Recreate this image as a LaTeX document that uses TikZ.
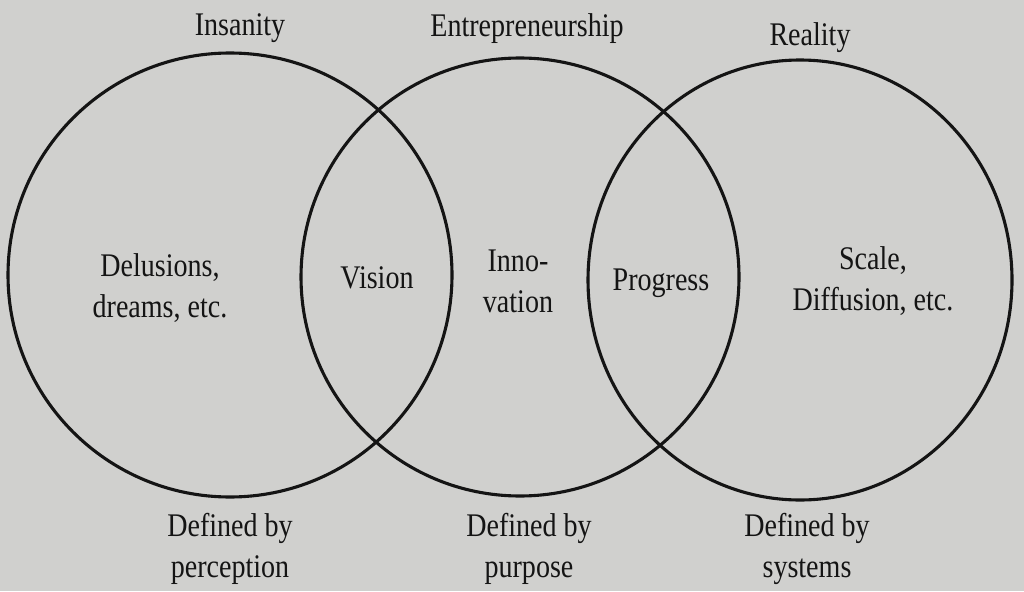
\documentclass[tikz,border=0pt]{standalone}
\usepackage{fontspec}
\setmainfont{Liberation Serif}[FakeStretch=0.85]
\usetikzlibrary{shapes.geometric}
\definecolor{paper}{RGB}{208,208,206}
\definecolor{ink}{RGB}{20,20,20}
\begin{document}
\begin{tikzpicture}[x=1pt,y=-1pt,
  ring/.style={draw=ink, line width=3.1pt, inner sep=0pt, fill=none},
  lbl/.style={text=ink, anchor=base, align=center, inner sep=0pt,
    font=\fontsize{33}{41}\selectfont}]
\fill[paper] (0,0) rectangle (1024,591);
\useasboundingbox (0,0) rectangle (1024,591);
% circles
\node[ring, circle, minimum size=444pt] (cInsanity) at (230,275) {};
\node[ring, circle, minimum size=438pt] (cEntre) at (520,277) {};
\node[ring, ellipse, minimum width=424pt, minimum height=440pt] (cReality) at (800,280) {};
% titles
\node[lbl] (tInsanity) at (240,36) {Insanity};
\node[lbl] (tEntre) at (527,37) {Entrepreneurship};
\node[lbl] (tReality) at (810,46) {Reality};
% inner labels (anchor base = last line)
\node[lbl] (lDelusions) at (160,317) {Delusions,\\dreams, etc.};
\node[lbl] (lVision) at (377,288) {Vision};
\node[lbl] (lInnovation) at (518,312) {Inno-\\vation};
\node[lbl] (lProgress) at (661,290) {Progress};
\node[lbl] (lScale) at (873,310) {Scale,\\Diffusion, etc.};
% bottom labels
\node[lbl] (bPerception) at (230,577) {Defined by\\perception};
\node[lbl] (bPurpose) at (529,577) {Defined by\\purpose};
\node[lbl] (bSystems) at (807,577) {Defined by\\systems};
\end{tikzpicture}
\end{document}
